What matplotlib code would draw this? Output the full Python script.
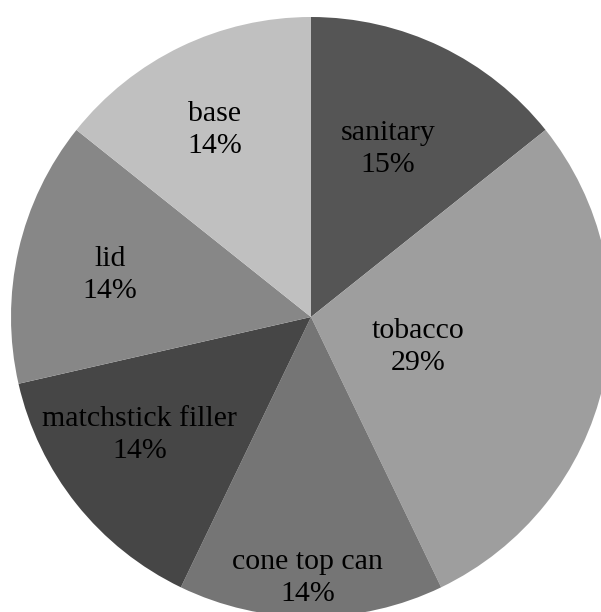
import numpy as np
import matplotlib.pyplot as plt

# Item counts; shown as percentages rounded so the labels add up to 100
categories = ['sanitary', 'tobacco', 'cone top can', 'matchstick filler', 'lid', 'base']
counts = [1, 2, 1, 1, 1, 1]
colors = ['#555555', '#9e9e9e', '#757575', '#464646', '#878787', '#c0c0c0']
# label placement: fraction of the radius, and a clockwise nudge in degrees
label_r = [0.616, 0.37, 0.87, 0.693, 0.685, 0.70]
label_nudge = [-1.1, 2.8, 0.7, 4.0, -1.1, -1.5]


def rounded_percents(vals):
    # largest-remainder rounding, so the whole numbers sum to 100
    raw = 100 * np.asarray(vals, dtype=float) / np.sum(vals)
    out = np.floor(raw).astype(int)
    rem = raw - out
    order = sorted(range(len(vals)), key=lambda i: (-round(rem[i], 9), i))
    for i in order[:100 - out.sum()]:
        out[i] += 1
    return out


pcts = rounded_percents(counts)

fig = plt.figure(figsize=(6.01, 6.12), dpi=100)
ax = fig.add_axes([0, 0, 1, 1])

wedges, _ = ax.pie(counts, colors=colors, startangle=90, counterclock=False,
                   radius=1.0, wedgeprops=dict(linewidth=0))

for w, name, p, r, d in zip(wedges, categories, pcts, label_r, label_nudge):
    mid = np.radians((w.theta1 + w.theta2) / 2 - d)
    ax.text(r * np.cos(mid), r * np.sin(mid), f'{name}\n{p}%',
            ha='center', va='center', fontsize=21.5, linespacing=1.28,
            family='Liberation Serif', color='black')

ax.set_xlim(-311 / 300, 290 / 300)
ax.set_ylim(-295 / 300, 317 / 300)
ax.set_aspect('equal')
ax.axis('off')

fig.savefig('out.png', dpi=100, facecolor='white')
